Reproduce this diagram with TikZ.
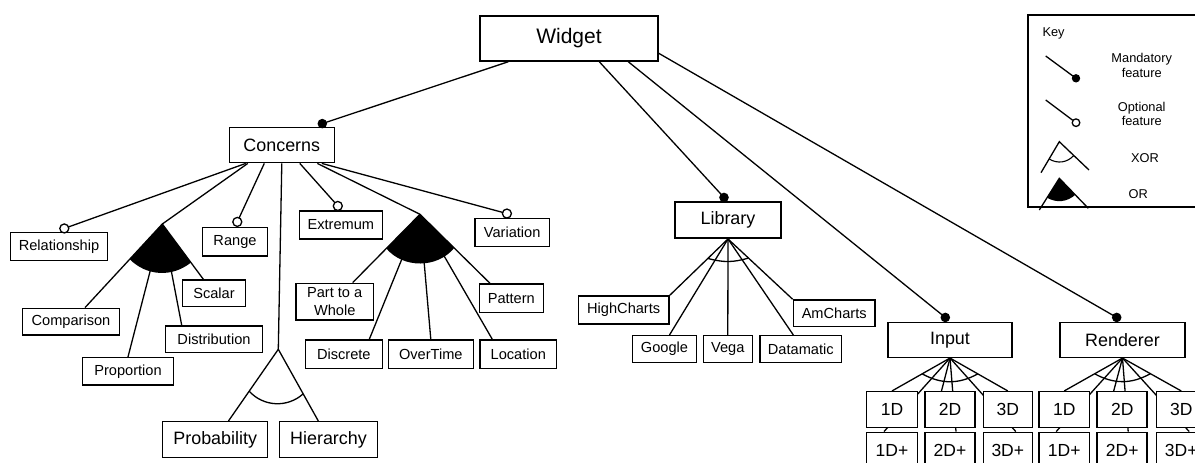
\documentclass[tikz,border=0pt]{standalone}
\usepackage{fontspec}
\setmainfont{Liberation Sans}
\usetikzlibrary{calc}
\pgfdeclarelayer{bg}
\pgfsetlayers{bg,main}
\newcommand{\fsmall}{\fontsize{14.6}{17.5}\selectfont}
\newcommand{\fmid}{\fontsize{17.9}{21}\selectfont}
\newcommand{\fdim}{\fontsize{17.5}{20}\selectfont}
\newcommand{\fbig}{\fontsize{21}{25}\selectfont}
\newcommand{\fkey}{\fontsize{12.8}{14.5}\selectfont}
\begin{document}
\begin{tikzpicture}[x=1pt,y=-1pt,
  featbox/.style 2 args={draw, line width=1.5pt, fill=white, minimum width=#1pt, minimum height=#2pt, inner sep=0pt, font=\fsmall, align=center},
  conn/.style={line width=1.3pt},
  mand/.style={fill=black},
  opt/.style={draw=black, fill=white, line width=1.3pt},
  keytext/.style={font=\fkey, align=center, inner sep=0pt}]
\useasboundingbox (0,0) rectangle (1195,463);

% ---------- nodes ----------
\node[featbox={178}{45}, font=\fbig] (widget) at (569,38.5) {Widget};
\node[featbox={105}{35.3}, font=\fmid] (concerns) at (281.8,145) {Concerns};
\node[featbox={96.6}{28}] (relationship) at (59,246.7) {Relationship};
\node[featbox={96.6}{26.7}] (comparison) at (71,321.7) {Comparison};
\node[featbox={90.6}{27.3}] (proportion) at (128,371.3) {Proportion};
\node[featbox={63.4}{26.7}] (scalar) at (214,293.3) {Scalar};
\node[featbox={96.6}{26.7}] (distribution) at (214,339.3) {Distribution};
\node[featbox={64.6}{28.3}] (range) at (235,241.8) {Range};
\node[featbox={105}{35.6}, font=\fmid] (probability) at (215.2,439.5) {Probability};
\node[featbox={98.4}{35.6}, font=\fmid] (hierarchy) at (328.5,439.5) {Hierarchy};
\node[featbox={83}{28}] (extremum) at (340.8,225) {Extremum};
\node[featbox={77.3}{36.7}] (whole) at (334.7,301.7) {Part to a\\Whole};
\node[featbox={64}{28.3}] (pattern) at (511.3,298.2) {Pattern};
\node[featbox={77}{28.3}] (discrete) at (343.8,354.2) {Discrete};
\node[featbox={85}{28.3}] (overtime) at (430.8,354.2) {OverTime};
\node[featbox={76.7}{28.3}] (location) at (518.3,354.2) {Location};
\node[featbox={74.3}{28.4}] (variation) at (512.2,232.5) {Variation};
\node[featbox={106}{36}, font=\fmid] (library) at (728,220.2) {Library};
\node[featbox={90.7}{28}] (highcharts) at (623.7,310) {HighCharts};
\node[featbox={64.4}{27}] (google) at (664.5,349.2) {Google};
\node[featbox={49}{27}] (vega) at (727.8,349.2) {Vega};
\node[featbox={81.7}{27}] (datamatic) at (800.8,349.2) {Datamatic};
\node[featbox={81.7}{26.7}] (amcharts) at (834.2,313.3) {AmCharts};
\node[featbox={124}{34.6}, font=\fmid] (input) at (950,340) {Input};
\node[featbox={125}{34.6}, font=\fmid] (renderer) at (1122.5,340) {Renderer};
\node[featbox={50.6}{35.6}, font=\fdim] (iA) at (892,409.5) {1D};
\node[featbox={50}{35.6}, font=\fdim] (iB) at (950,409.5) {2D};
\node[featbox={49}{35.6}, font=\fdim] (iC) at (1007.8,409.5) {3D};
\node[featbox={50.6}{35.6}, font=\fdim] (iAp) at (892,450.1) {1D+};
\node[featbox={50}{35.6}, font=\fdim] (iBp) at (950,450.1) {2D+};
\node[featbox={49}{35.6}, font=\fdim] (iCp) at (1007.8,450.1) {3D+};
\node[featbox={50.6}{35.6}, font=\fdim] (rA) at (1064.2,409.5) {1D};
\node[featbox={50}{35.6}, font=\fdim] (rB) at (1122.2,409.5) {2D};
\node[featbox={49}{35.6}, font=\fdim] (rC) at (1181.2,409.5) {3D};
\node[featbox={50.6}{35.6}, font=\fdim] (rAp) at (1064.2,450.1) {1D+};
\node[featbox={50}{35.6}, font=\fdim] (rBp) at (1122.2,450.1) {2D+};
\node[featbox={49}{35.6}, font=\fdim] (rCp) at (1181.2,450.1) {3D+};

% ---------- connector end points ----------
\coordinate (mConcerns) at ($(concerns.north)+(40.5,-3)$);
\coordinate (mLibrary) at ($(library.north)+(-4,-4)$);
\coordinate (mInput) at ($(input.north)+(-4.7,-4.5)$);
\coordinate (mRenderer) at ($(renderer.north)+(-5.8,-4.5)$);
\coordinate (oRelationship) at ($(relationship.north)+(5.3,-3.5)$);
\coordinate (oRange) at ($(range.north)+(2.3,-5)$);
\coordinate (oExtremum) at ($(extremum.north)+(-3,-4.3)$);
\coordinate (oVariation) at ($(variation.north)+(-5.3,-4)$);
\coordinate (or1) at (162.3,224);
\coordinate (or2) at (420,214.3);
\coordinate (xor1) at (278.3,349.3);
\coordinate (tComparison) at ($(comparison.north)+(14,0)$);
\coordinate (tScalar) at ($(scalar.north)+(-10.7,0)$);
\coordinate (tDistribution) at ($(distribution.north)+(-32.3,0)$);
\coordinate (tWhole) at ($(whole.north)+(18,0)$);
\coordinate (tPattern) at ($(pattern.north)+(-21.3,0)$);
\coordinate (tDiscrete) at ($(discrete.north)+(25.5,0)$);
\coordinate (tLocation) at ($(location.north)+(-26,0)$);
\coordinate (tProbability) at ($(probability.north)+(13.3,0)$);
\coordinate (tHierarchy) at ($(hierarchy.north)+(-10.2,0)$);
\coordinate (tGoogle) at ($(google.north)+(5,0)$);
\coordinate (tDatamatic) at ($(datamatic.north)+(-7.5,0)$);

% ---------- connectors (behind boxes) ----------
\begin{pgfonlayer}{bg}
\draw[conn] ($(widget.south)+(-60.7,0)$) -- (mConcerns);
\draw[conn] ($(widget.south)+(30.3,0)$) -- (mLibrary);
\draw[conn] ($(widget.south)+(59.3,0)$) -- (mInput);
\draw[conn] ($(widget.east)+(0,14.8)$) -- (mRenderer);
% Concerns
\draw[conn] ($(concerns.south)+(-36,0)$) -- (oRelationship);
\draw[conn] ($(concerns.south)+(-17.5,0)$) -- (oRange);
\draw[conn] ($(concerns.south)+(18,0)$) -- (oExtremum);
\draw[conn] ($(concerns.south)+(40,0)$) -- (oVariation);
\draw[conn] ($(concerns.south)+(-34,0)$) -- (or1);
\draw[conn] ($(concerns.south)+(35.5,0)$) -- (or2);
\draw[conn] (concerns.south) -- (xor1);
% OR group 1
\fill (or1) -- ($(or1)!48pt!(tComparison)$) to[bend right=42] ($(or1)!48pt!(tScalar)$) -- cycle;
\draw[conn] (or1) -- (tComparison);
\draw[conn] (or1) -- (proportion.north);
\draw[conn] (or1) -- (tDistribution);
\draw[conn] (or1) -- (tScalar);
% OR group 2
\fill (or2) -- ($(or2)!48pt!(tWhole)$) to[bend right=50] ($(or2)!48pt!(tPattern)$) -- cycle;
\draw[conn] (or2) -- (tWhole);
\draw[conn] (or2) -- (tDiscrete);
\draw[conn] (or2) -- (overtime.north);
\draw[conn] (or2) -- (tLocation);
\draw[conn] (or2) -- (tPattern);
% XOR Probability / Hierarchy
\draw[conn] (xor1) -- (tProbability);
\draw[conn] (xor1) -- (tHierarchy);
\draw[conn] ($(xor1)!51pt!(tProbability)$) to[bend right=45] ($(xor1)!51pt!(tHierarchy)$);
% Library
\draw[conn] (library.south) -- (highcharts.north east);
\draw[conn] (library.south) -- (tGoogle);
\draw[conn] (library.south) -- (vega.north);
\draw[conn] (library.south) -- (tDatamatic);
\draw[conn] (library.south) -- (amcharts.north west);
\draw[conn] ($(library.south)!28pt!(highcharts.north east)$) to[bend right=16] ($(library.south)!28pt!(amcharts.north west)$);
% Input
\draw[conn] (input.south) -- (iA.north);
\draw[conn] (input.south) -- ($(iAp.north)+(-8,0)$);
\draw[conn] (input.south) -- ($(iB.north)+(-8.5,0)$);
\draw[conn] (input.south) -- ($(iBp.north)+(6,0)$);
\draw[conn] (input.south) -- (iC.north);
\draw[conn] (input.south) -- ($(iCp.north)+(8,0)$);
\draw[conn] ($(input.south)!32pt!(iA.north)$) to[bend right=29] ($(input.south)!32pt!(iC.north)$);
% Renderer
\draw[conn] (renderer.south) -- (rA.north);
\draw[conn] (renderer.south) -- ($(rAp.north)+(-8,0)$);
\draw[conn] (renderer.south) -- ($(rB.north)+(-8.5,0)$);
\draw[conn] (renderer.south) -- ($(rBp.north)+(6,0)$);
\draw[conn] (renderer.south) -- (rC.north);
\draw[conn] (renderer.south) -- ($(rCp.north)+(8,0)$);
\draw[conn] ($(renderer.south)!32pt!(rA.north)$) to[bend right=29] ($(renderer.south)!32pt!(rC.north)$);
\end{pgfonlayer}

% ---------- feature markers ----------
\fill[mand] (mConcerns) circle[radius=4.8pt];
\fill[mand] (mLibrary) circle[radius=4.8pt];
\fill[mand] (mInput) circle[radius=4.8pt];
\fill[mand] (mRenderer) circle[radius=4.8pt];
\draw[opt] (oRelationship) circle[radius=4.5pt];
\draw[opt] (oRange) circle[radius=4.5pt];
\draw[opt] (oExtremum) circle[radius=4.5pt];
\draw[opt] (oVariation) circle[radius=4.5pt];

% ---------- key ----------
\node[draw, line width=1.3pt, minimum width=169pt, minimum height=192pt, inner sep=0pt] (keybox) at (1112.5,111) {};
\node[keytext, anchor=west] (keylabel) at (1042.3,33.3) {Key};
\coordinate (kmA) at (1045.7,56);
\coordinate (kmB) at (1076,78.3);
\draw[conn] (kmA) -- (kmB);
\fill[mand] (kmB) circle[radius=4.2pt];
\node[keytext] (kmT) at (1141.7,65.5) {Mandatory\\feature};
\coordinate (koA) at (1045.7,100);
\coordinate (koB) at (1076,122.7);
\draw[conn] (koA) -- ($(koB)!4pt!(koA)$);
\draw[opt] (koB) circle[radius=3.8pt];
\node[keytext] (koT) at (1141.7,114) {Optional\\feature};
\coordinate (kx) at (1059.3,141.7);
\coordinate (kxl) at (1041,172.7);
\coordinate (kxr) at (1089,170);
\draw[conn] (kxl) -- (kx) -- (kxr);
\draw[line width=1.1pt] ($(kx)!20pt!(kxl)$) to[bend right=40] ($(kx)!20pt!(kxr)$);
\node[keytext] (kxT) at (1145,158.3) {XOR};
\coordinate (ko) at (1059.3,178.3);
\coordinate (kol) at (1039.3,210);
\coordinate (kor) at (1088.3,208.3);
\fill (ko) -- ($(ko)!23pt!(kol)$) to[bend right=35] ($(ko)!23pt!(kor)$) -- cycle;
\draw[conn] (kol) -- (ko) -- (kor);
\node[keytext] (koT2) at (1138.3,194) {OR};
\end{tikzpicture}
\end{document}
